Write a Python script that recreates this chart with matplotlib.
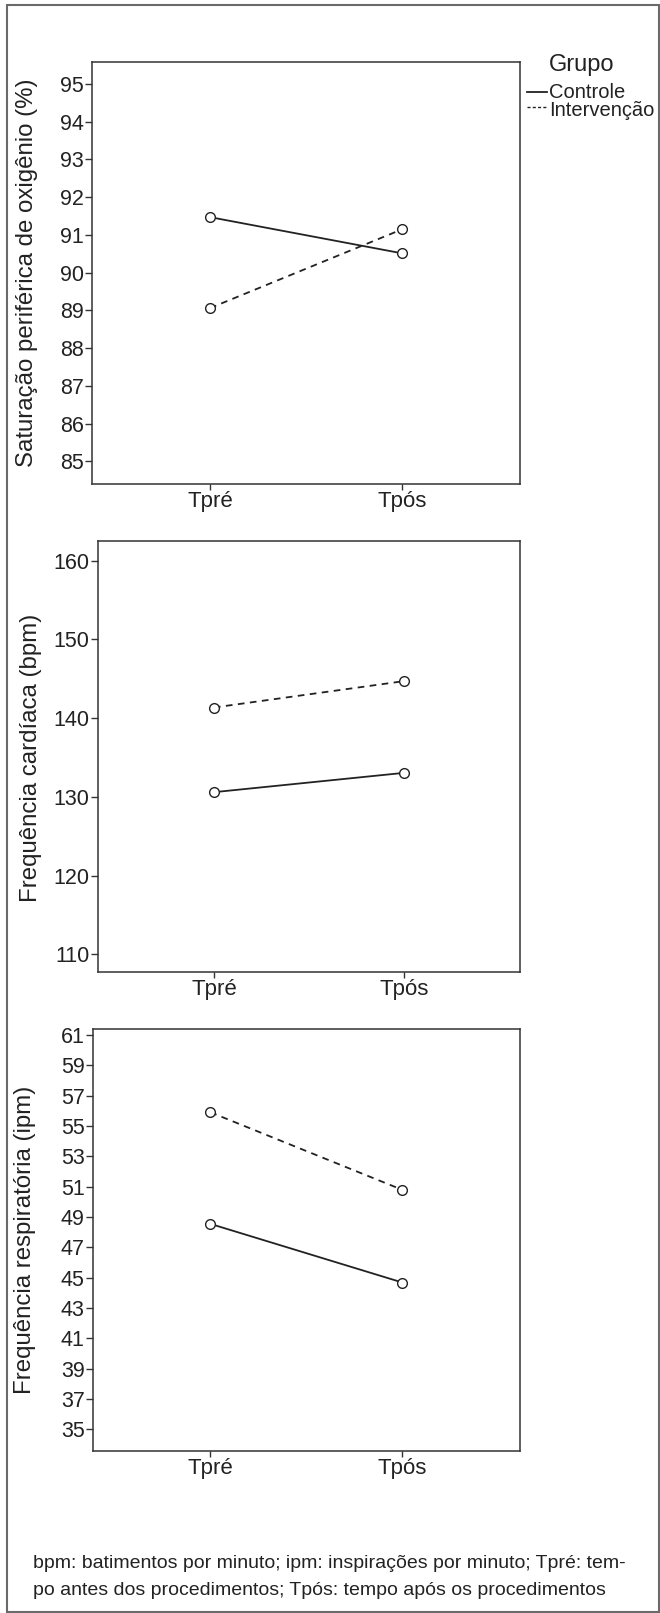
import matplotlib

matplotlib.use("Agg")
import matplotlib.pyplot as plt
import numpy as np
from matplotlib.lines import Line2D
from matplotlib.patches import Rectangle

# ---- data ----
times = ["Tpré", "Tpós"]
groups = ["Controle", "Intervenção"]

spo2_controle = [91.47, 90.51]
spo2_intervencao = [89.06, 91.15]

fc_controle = [130.6, 133.05]
fc_intervencao = [141.35, 144.7]

fr_controle = [48.54, 44.67]
fr_intervencao = [55.9, 50.78]

spo2_ticks = list(range(85, 96))
fc_ticks = list(range(110, 161, 10))
fr_ticks = list(range(35, 62, 2))

ylabels = [
    "Saturação periférica de oxigênio (%)",
    "Frequência cardíaca (bpm)",
    "Frequência respiratória (ipm)",
]
footnote = [
    "bpm: batimentos por minuto; ipm: inspirações por minuto; Tpré: tem-",
    "po antes dos procedimentos; Tpós: tempo após os procedimentos",
]

# ---- style ----
W, H = 660, 1613
INK = "#222222"
SPINE = "#333333"
GROUP_STYLES = {
    "Controle": {"linestyle": "-"},
    "Intervenção": {"linestyle": (0, (3.7, 3.0))},
}

plt.rcParams.update(
    {
        "font.family": ["Liberation Sans", "DejaVu Sans"],
        "text.color": INK,
        "axes.edgecolor": SPINE,
        "xtick.color": SPINE,
        "ytick.color": SPINE,
        "xtick.labelcolor": INK,
        "ytick.labelcolor": INK,
    }
)


def fx(px):
    return px / W


def fy(py):
    return 1 - py / H


def add_axes(fig, left, top, right, bottom):
    return fig.add_axes([fx(left), fy(bottom), (right - left) / W, (bottom - top) / H])


def draw_panel(ax, controle, intervencao, ticks, ylim):
    x = np.arange(len(times))
    for name, values in (("Controle", controle), ("Intervenção", intervencao)):
        ax.plot(
            x,
            values,
            color=INK,
            linewidth=1.3,
            linestyle=GROUP_STYLES[name]["linestyle"],
            marker="o",
            markersize=7,
            markerfacecolor="white",
            markeredgecolor=INK,
            markeredgewidth=1.0,
            zorder=3,
        )
    ax.set_xlim(-0.612, 1.612)
    ax.set_ylim(*ylim)
    ax.set_xticks(x)
    ax.set_xticklabels(times)
    ax.set_yticks(ticks)
    for spine in ax.spines.values():
        spine.set_linewidth(1.1)
    ax.tick_params(axis="y", direction="out", length=5, width=1, pad=0.8, labelsize=15.5)
    ax.tick_params(axis="x", direction="out", length=4.3, width=1, pad=1, labelsize=16)


fig = plt.figure(figsize=(W / 100, H / 100), dpi=100)

ax1 = add_axes(fig, 92.3, 62, 520, 484)
draw_panel(ax1, spo2_controle, spo2_intervencao, spo2_ticks, (84.40, 95.58))

ax2 = add_axes(fig, 97.7, 541, 520, 971.7)
draw_panel(ax2, fc_controle, fc_intervencao, fc_ticks, (107.8, 162.5))

ax3 = add_axes(fig, 92.7, 1029.3, 520, 1450.7)
draw_panel(ax3, fr_controle, fr_intervencao, fr_ticks, (33.58, 61.37))

# y labels, placed by hand like the original layout
for label, (lx, ly) in zip(ylabels, [(27, 273), (31, 758), (25, 1240)]):
    fig.text(fx(lx), fy(ly), label, rotation=90, ha="center", va="center", fontsize=17.3)

# legend
fig.text(fx(549), fy(65.3), "Grupo", ha="left", va="center", fontsize=17)
for name, y in zip(groups, [92.3, 110]):
    handle_y = y - 0.6 if name == "Controle" else y - 3
    dash = "-" if name == "Controle" else (0, (2.2, 1.6))
    fig.add_artist(
        Line2D(
            [fx(527), fx(547)],
            [fy(handle_y), fy(handle_y)],
            transform=fig.transFigure,
            color=INK,
            linewidth=1.3 if name == "Controle" else 1.0,
            linestyle=dash,
        )
    )
    fig.text(fx(549), fy(y), name, ha="left", va="center", fontsize=14.5)

# footnote
for line, y in zip(footnote, [1563, 1590.7]):
    fig.text(fx(33.3), fy(y), line, ha="left", va="center", fontsize=14)

# outer frame
fig.add_artist(
    Rectangle(
        (fx(7), fy(1612)),
        (659 - 7) / W,
        (1612 - 5) / H,
        transform=fig.transFigure,
        fill=False,
        edgecolor="#6a6a6a",
        linewidth=1.5,
    )
)

fig.savefig("out.png", dpi=100, facecolor="white")
